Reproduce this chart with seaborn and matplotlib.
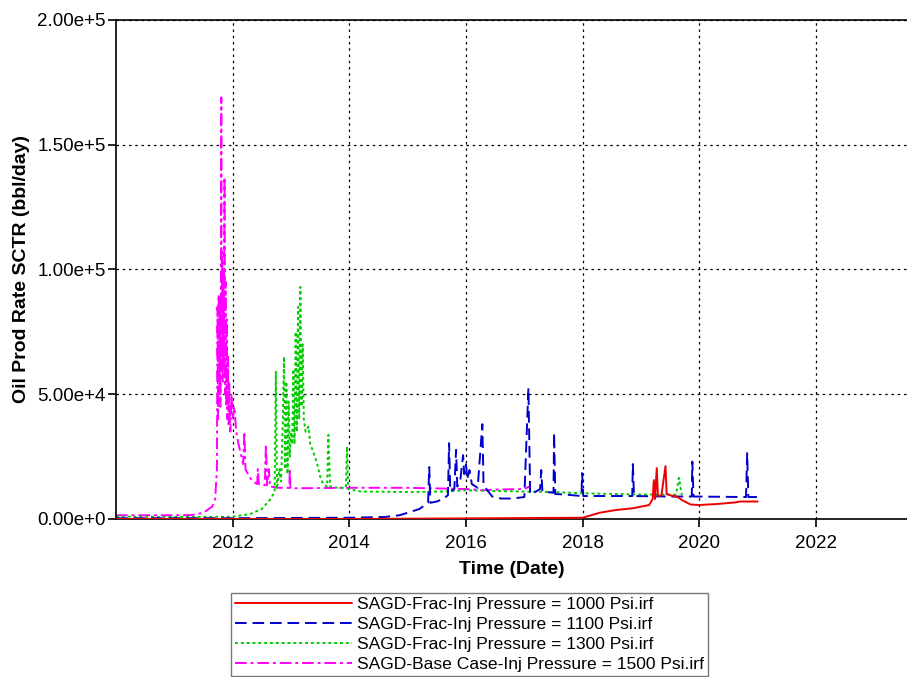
import numpy as np
import pandas as pd
import matplotlib
matplotlib.use("Agg")
import matplotlib.pyplot as plt
import seaborn as sns
from matplotlib.ticker import FuncFormatter

# ---------------- data (decimal years, bbl/day) ----------------
labels = [
    "SAGD-Frac-Inj Pressure = 1000 Psi.irf",
    "SAGD-Frac-Inj Pressure = 1100 Psi.irf",
    "SAGD-Frac-Inj Pressure = 1300 Psi.irf",
    "SAGD-Base Case-Inj Pressure = 1500 Psi.irf",
]

t_1000 = [2010.0, 2014.0, 2018.0, 2018.29, 2018.57, 2018.86, 2019.14, 2019.2, 2019.22, 2019.24,
          2019.27, 2019.29, 2019.35, 2019.42, 2019.44, 2019.5, 2019.6, 2019.65, 2019.7, 2019.85,
          2020.0, 2020.3, 2020.6, 2020.7, 2021.0]
v_1000 = [0, 0, 500, 2500, 3600, 4300, 5600, 8000, 15600, 8000,
          20400, 9000, 9500, 21200, 10000, 9500, 9000, 8500, 7600, 5800,
          5600, 6000, 6600, 7000, 7000]

t_1100 = [2010.0, 2012.0, 2014.0, 2014.6, 2014.86, 2015.0, 2015.2, 2015.35, 2015.37, 2015.39,
          2015.5, 2015.6, 2015.69, 2015.71, 2015.73, 2015.8, 2015.83, 2015.85, 2015.9, 2015.95,
          2015.97, 2016.0, 2016.02, 2016.06, 2016.1, 2016.2, 2016.28, 2016.3, 2016.35, 2016.45,
          2016.6, 2016.8, 2017.0, 2017.07, 2017.1, 2017.2, 2017.27, 2017.29, 2017.31, 2017.5,
          2017.51, 2017.53, 2017.7, 2017.98, 2017.99, 2018.01, 2018.85, 2018.86, 2018.88, 2019.5,
          2019.87, 2019.88, 2019.9, 2020.8, 2020.82, 2020.84, 2021.0]
v_1100 = [300, 300, 500, 800, 1500, 2500, 4000, 6500, 20800, 6500,
          7000, 8000, 9500, 30400, 11000, 12000, 27700, 13000, 15000, 25600,
          18000, 22000, 16000, 19600, 14000, 12500, 38000, 14000, 12000, 9000,
          8200, 8200, 8800, 52500, 10000, 11000, 12000, 19600, 11000, 10500,
          34600, 10000, 9800, 9200, 18400, 9200, 9200, 22000, 9200, 9000,
          9000, 23000, 9000, 8800, 26400, 8800, 8800]

t_1300 = [2010.0, 2011.0, 2012.0, 2012.3, 2012.5, 2012.65, 2012.72, 2012.74, 2012.76, 2012.8,
          2012.83, 2012.86, 2012.88, 2012.9, 2012.92, 2012.94, 2012.96, 2012.98, 2013.0, 2013.02,
          2013.04, 2013.06, 2013.08, 2013.1, 2013.12, 2013.14, 2013.16, 2013.18, 2013.2, 2013.22,
          2013.25, 2013.3, 2013.33, 2013.38, 2013.45, 2013.5, 2013.55, 2013.62, 2013.64, 2013.67,
          2013.8, 2013.94, 2013.96, 2013.98, 2014.2, 2015.0, 2015.6, 2016.0, 2016.5, 2017.0,
          2017.5, 2018.0, 2019.0, 2019.6, 2019.65, 2019.7]
v_1300 = [1000, 800, 900, 2000, 4000, 8000, 11000, 59000, 12000, 20000,
          15000, 40000, 65000, 20000, 55000, 18000, 47000, 25000, 35000, 30000,
          60000, 30000, 75000, 35000, 85000, 40000, 93000, 45000, 70000, 40000,
          35000, 37000, 30000, 27000, 22000, 17000, 14000, 13000, 33700, 13000,
          12500, 12500, 29000, 12000, 11000, 10800, 11000, 11500, 11200, 11000,
          10800, 10300, 9800, 9800, 16500, 9500]

t_1500 = [2010.0, 2011.0, 2011.3, 2011.5, 2011.65, 2011.7, 2011.73, 2011.74, 2011.75, 2011.76,
          2011.77, 2011.78, 2011.79, 2011.8, 2011.805, 2011.81, 2011.82, 2011.83, 2011.84, 2011.85,
          2011.86, 2011.87, 2011.88, 2011.89, 2011.9, 2011.91, 2011.92, 2011.93, 2011.94, 2011.96,
          2011.98, 2012.0, 2012.03, 2012.06, 2012.1, 2012.15, 2012.18, 2012.2, 2012.22, 2012.28,
          2012.35, 2012.42, 2012.43, 2012.45, 2012.55, 2012.57, 2012.59, 2012.62, 2012.64, 2012.8,
          2012.97, 2012.98, 2012.99, 2014.0, 2015.0, 2016.0, 2016.3, 2016.5, 2017.0, 2017.08,
          2017.1]
v_1500 = [1500, 1500, 1600, 2500, 5000, 8000, 20000, 85000, 40000, 90000,
          50000, 88000, 45000, 100000, 169000, 60000, 107000, 55000, 100000, 60000,
          137000, 50000, 95000, 45000, 80000, 40000, 65000, 38000, 55000, 35000,
          50000, 40000, 45000, 35000, 30000, 25000, 22000, 35000, 20000, 17000,
          15000, 14000, 20000, 14000, 13500, 30000, 13500, 20000, 13000, 12500,
          12500, 20000, 12300, 12500, 12500, 12000, 11500, 11800, 12000, 13000,
          12000]

x_ticks = [2012, 2014, 2016, 2018, 2020, 2022]
y_ticks = [0, 50000, 100000, 150000, 200000]

# ---------------- styling ----------------
sns.set_style("white")
plt.rcParams["font.family"] = ["Liberation Sans", "DejaVu Sans"]
plt.rcParams["text.color"] = "black"
plt.rcParams["axes.labelcolor"] = "black"
plt.rcParams["xtick.color"] = "black"
plt.rcParams["ytick.color"] = "black"

fig = plt.figure(figsize=(9.07, 6.77), dpi=100)
ax = fig.add_axes([0.1279, 0.2334, 1.0 - 0.1279, 0.9705 - 0.2334])

series = [
    (t_1000, v_1000, labels[0], "#ee0000", "-", 4),
    (t_1100, v_1100, labels[1], "#0000cc", (0, (6, 3)), 3),
    (t_1300, v_1300, labels[2], "#00cc00", (0, (1.5, 1.5)), 2),
    (t_1500, v_1500, labels[3], "#ff00ff", (0, (6, 2, 1.5, 2)), 1),
]
handles = []
for t, v, lab, col, ls, z in series:
    df = pd.DataFrame({"t": t, "v": v})
    sns.lineplot(data=df, x="t", y="v", ax=ax, color=col, linewidth=1.4,
                 linestyle=ls, zorder=z, label=lab, legend=False, estimator=None)
    handles.append(ax.lines[-1])

ax.set_xlim(2010.0, 2023.56)
ax.set_ylim(0, 200000)
ax.set_xticks(x_ticks)
ax.set_xticklabels([str(x) for x in x_ticks])
ax.set_yticks(y_ticks)


def sci(v, pos):
    if v == 0:
        return "0.00e+0"
    e = int(np.floor(np.log10(abs(v))))
    m = v / 10 ** e
    return f"{m:.2f}e+{e}"


ax.yaxis.set_major_formatter(FuncFormatter(sci))
ax.tick_params(axis="both", direction="out", length=5.8, width=1.2, labelsize=13.5,
               pad=1.5, bottom=True, left=True, colors="black")
ax.tick_params(axis="x", pad=5.5)
ax.grid(True, color="black", linestyle=(0, (2, 3)), linewidth=0.9)
for s in ["left", "bottom", "top"]:
    ax.spines[s].set_color("black")
    ax.spines[s].set_linewidth(1.2)
ax.spines["right"].set_visible(False)

ax.set_xlabel("Time (Date)", fontsize=14, fontweight="bold", labelpad=7, color="black")
ax.set_ylabel("Oil Prod Rate SCTR (bbl/day)", fontsize=14, fontweight="bold", labelpad=5,
              color="black")

leg = fig.legend(handles=handles, labels=labels, loc="upper left",
                 bbox_to_anchor=(231 / 907, 1 - 593 / 677), fontsize=12.6,
                 handlelength=6.7, handletextpad=0.3, labelspacing=0.28,
                 borderpad=0.2, borderaxespad=0.0, frameon=True, fancybox=False,
                 edgecolor="#555555")
leg.get_frame().set_linewidth(1.0)
for txt in leg.get_texts():
    txt.set_color("black")

fig.savefig("out.png", dpi=100)
